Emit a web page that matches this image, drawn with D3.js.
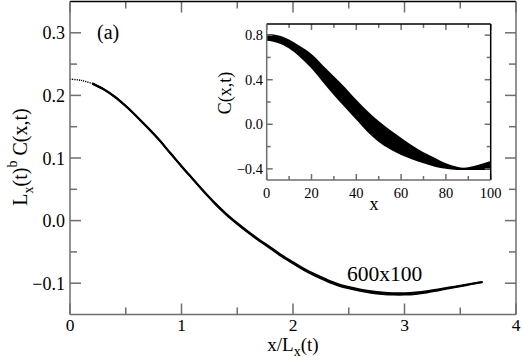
<!DOCTYPE html>
<html><head><meta charset="utf-8">
<script src="https://cdn.jsdelivr.net/npm/d3@7"></script>
<style>body{margin:0;background:#fff}svg{display:block}</style>
</head><body>
<svg id="c" width="523" height="362" font-family="'Liberation Serif', 'Times New Roman', Times, 'DejaVu Serif', serif"></svg>
<script>
// Main curve: scaled correlation vs x/Lx(t)
const mainX = [0,0.1,0.2,0.3,0.4,0.5,0.6,0.7,0.8,0.9,1.0,1.1,1.2,1.3,1.4,1.5,1.6,1.7,1.8,1.9,2.0,2.1,2.2,2.3,2.4,2.5,2.6,2.7,2.8,2.9,3.0,3.1,3.2,3.3,3.4,3.5,3.6,3.7];
const mainY = [0.226,0.224,0.219,0.210,0.198,0.183,0.166,0.148,0.129,0.108,0.087,0.067,0.047,0.028,0.011,-0.004,-0.018,-0.031,-0.043,-0.0555,-0.0665,-0.077,-0.086,-0.094,-0.101,-0.106,-0.110,-0.113,-0.115,-0.116,-0.116,-0.115,-0.113,-0.110,-0.107,-0.104,-0.101,-0.098];
// Inset: band of C(x,t) curves (upper and lower envelope)
const insetX = [0,5,10,15,20,25,30,35,40,45,50,55,60,65,70,75,80,85,88,90,95,100];
const insetUpper = [0.81,0.80,0.76,0.70,0.63,0.53,0.43,0.33,0.22,0.12,0.03,-0.05,-0.12,-0.19,-0.25,-0.30,-0.35,-0.38,-0.39,-0.385,-0.36,-0.33];
const insetLower = [0.75,0.73,0.68,0.60,0.50,0.38,0.26,0.15,0.04,-0.07,-0.16,-0.225,-0.275,-0.315,-0.35,-0.38,-0.40,-0.41,-0.41,-0.41,-0.41,-0.41];
const mainXTicks = [0,1,2,3,4];
const mainYTicks = [-0.1,0.0,0.1,0.2,0.3];
const insetXTicks = [0,20,40,60,80,100];
const insetYTicks = [-0.4,0.0,0.4,0.8];

const svg = d3.select("#c");
const axisCol = "#6e6e6e";

function frame(g, x, y, xMajor, xMinor, yMajor, yMinor, majLen, minLen, topCol, rightCol) {
  const [x0,x1] = x.range(), [y0,y1] = y.range();
  const ln = (a,b,c,d,col,w) => g.append("line").attr("x1",a).attr("y1",b).attr("x2",c).attr("y2",d).attr("stroke",col).attr("stroke-width",w);
  xMajor.forEach(v=>{ln(x(v),y0,x(v),y0-majLen,axisCol,1.5);ln(x(v),y1,x(v),y1+majLen,axisCol,1.5);});
  xMinor.forEach(v=>{ln(x(v),y0,x(v),y0-minLen,axisCol,1.5);ln(x(v),y1,x(v),y1+minLen,axisCol,1.5);});
  yMajor.forEach(v=>{ln(x0,y(v),x0+majLen,y(v),axisCol,1.5);ln(x1,y(v),x1-majLen,y(v),axisCol,1.5);});
  yMinor.forEach(v=>{ln(x0,y(v),x0+minLen,y(v),axisCol,1.5);ln(x1,y(v),x1-minLen,y(v),axisCol,1.5);});
  ln(x0,y1,x1,y1,topCol,1.5);
  ln(x1,y1,x1,y0,rightCol,1.5);
  ln(x0,y0,x1,y0,axisCol,1.5);
  ln(x0,y0,x0,y1,axisCol,1.5);
}

// ---- main plot ----
const x = d3.scaleLinear().domain([0,4]).range([70,516]);
const y = d3.scaleLinear().domain([-0.15,0.35]).range([314.5,1.5]);
const gm = svg.append("g");
const pts = mainX.map((v,i)=>[v,mainY[i]]);
const line = d3.line().x(d=>x(d[0])).y(d=>y(d[1])).curve(d3.curveCatmullRom);
gm.append("path").datum(pts.filter(d=>d[0]<=0.2)).attr("d",line).attr("fill","none").attr("stroke","#000").attr("stroke-width",1.4).attr("stroke-dasharray","1.2,1");
const solid = pts.filter(d=>d[0]>=0.2);
gm.append("path").datum(solid).attr("d",line).attr("fill","none").attr("stroke","#000").attr("stroke-width",2);
// slight thickening of the overlapping curves toward the minimum
const off = v => Math.max(0, Math.min(1.4, (v-0.6)*0.9)) * Math.max(0, Math.min(1, (3.75-v)*1.5));
gm.append("path").datum(solid).attr("d",d3.line().x(d=>x(d[0])).y(d=>y(d[1])+off(d[0])).curve(d3.curveCatmullRom)).attr("fill","none").attr("stroke","#000").attr("stroke-width",2);

frame(gm, x, y, mainXTicks, [0.5,1.5,2.5,3.5], mainYTicks, [-0.05,0.05,0.15,0.25], 11, 7, "#000", axisCol);

gm.selectAll(".xt").data(mainXTicks).join("text").attr("x",d=>x(d)).attr("y",331).attr("text-anchor","middle").attr("font-size",17.5).text(d=>d3.format("d")(d));
gm.selectAll(".yt").data(mainYTicks).join("text").attr("x",65).attr("y",d=>y(d)+6.5).attr("text-anchor","end").attr("font-size",18).text(d=>d3.format(".1f")(d));

// x label
const xl = gm.append("text").attr("x",293).attr("y",351).attr("text-anchor","middle").attr("font-size",19);
xl.append("tspan").text("x/L");
xl.append("tspan").attr("font-size",14).attr("dy",5).text("x");
xl.append("tspan").attr("dy",-5).text("(t)");
// y label
const yl = gm.append("text").attr("transform","translate(27,157) rotate(-90)").attr("text-anchor","middle").attr("font-size",20);
yl.append("tspan").text("L");
yl.append("tspan").attr("font-size",14).attr("dy",6).text("x");
yl.append("tspan").attr("dy",-6).text("(t)");
yl.append("tspan").attr("font-size",14).attr("dy",-10).text("b");
yl.append("tspan").attr("dy",10).text(" C(x,t)");

gm.append("text").attr("x",97).attr("y",39).attr("font-size",20).text("(a)");
gm.append("text").attr("x",347).attr("y",281).attr("font-size",21.5).text("600x100");

// ---- inset ----
const xi = d3.scaleLinear().domain([0,100]).range([266.7,490.7]);
const yi = d3.scaleLinear().domain([-0.5,0.9]).range([180,24]);
const gi = svg.append("g");
gi.append("rect").attr("x",266.7).attr("y",24).attr("width",224).attr("height",156).attr("fill","#fff");
const band = insetX.map((v,i)=>({x:v,u:insetUpper[i],l:insetLower[i]}));
gi.append("path").datum(band).attr("d",d3.area().x(d=>xi(d.x)).y0(d=>yi(d.l)).y1(d=>yi(d.u)).curve(d3.curveMonotoneX)).attr("fill","#000");
frame(gi, xi, yi, insetXTicks, [10,30,50,70,90], insetYTicks, [-0.2,0.2,0.6], 6, 4, "#000", "#000");
gi.selectAll(".xt").data(insetXTicks).join("text").attr("x",d=>xi(d)).attr("y",198).attr("text-anchor","middle").attr("font-size",14.5).text(d=>d);
gi.selectAll(".yt").data(insetYTicks).join("text").attr("x",263).attr("y",d=>yi(d)+5).attr("text-anchor","end").attr("font-size",14.5).text(d=>d3.format(".1f")(d));
gi.append("text").attr("x",374).attr("y",210).attr("text-anchor","middle").attr("font-size",18).text("x");
gi.append("text").attr("transform","translate(231,93) rotate(-90)").attr("text-anchor","middle").attr("font-size",18).text("C(x,t)");
</script>
</body></html>
